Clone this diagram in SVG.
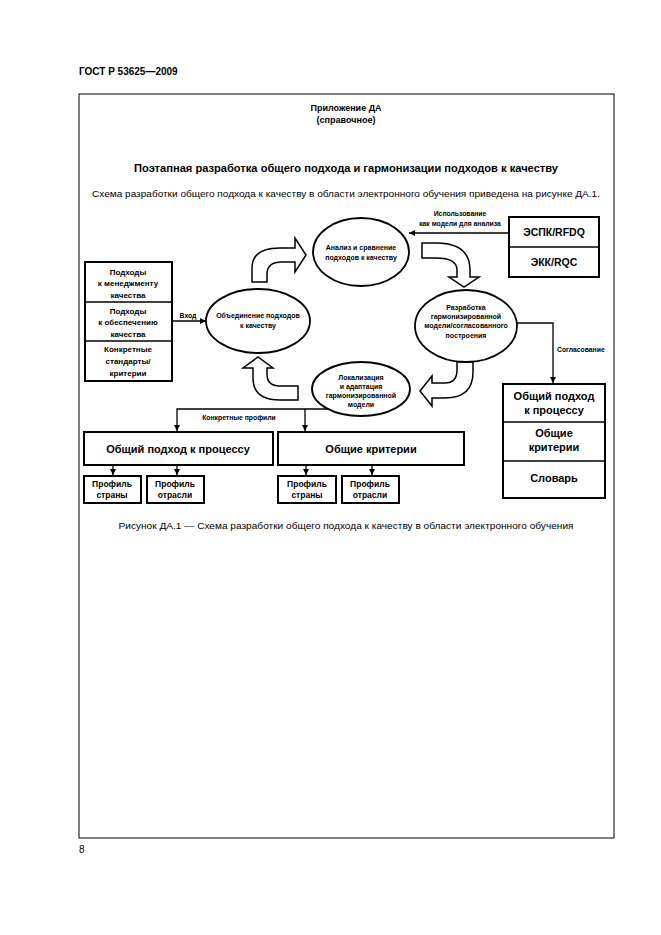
<svg xmlns="http://www.w3.org/2000/svg" width="661" height="935" viewBox="0 0 661 935">
<defs>
<style>
text{font-family:"Liberation Sans",Arial,sans-serif;fill:#000}
.b{font-weight:bold}
.c{text-anchor:middle}
.box{fill:#fff;stroke:#000;stroke-width:2}
.ell{fill:#fff;stroke:#000;stroke-width:1.8}
.blk{fill:#fff;stroke:#000;stroke-width:1.5;stroke-linejoin:miter}
.ln{fill:none;stroke:#000;stroke-width:1.3}
.et{font-size:7px;font-weight:bold}
.lt{font-size:8px;font-weight:bold}
.lab{font-size:6.8px;font-weight:bold}
.big{font-size:11px;font-weight:bold}
.pr{font-size:8.5px;font-weight:bold}
</style>
<marker id="ah" viewBox="0 0 10 10" refX="10" refY="5" markerWidth="6" markerHeight="6" markerUnits="userSpaceOnUse" orient="auto">
<path d="M0,0 L10,5 L0,10 Z" fill="#000"/>
</marker>
</defs>
<rect width="661" height="935" fill="#fff"/>
<text x="79" y="75" class="b" font-size="10">ГОСТ Р 53625—2009</text>
<rect x="79" y="94" width="535" height="744" fill="none" stroke="#000" stroke-width="1"/>
<text x="346" y="111" class="b c" font-size="9">Приложение ДА</text>
<text x="346" y="123" class="b c" font-size="9">(справочное)</text>
<text x="346" y="172" class="b c" font-size="10" textLength="424" lengthAdjust="spacingAndGlyphs">Поэтапная разработка общего подхода и гармонизации подходов к качеству</text>
<text x="346" y="197" class="c" font-size="9" textLength="508" lengthAdjust="spacingAndGlyphs">Схема разработки общего подхода к качеству в области электронного обучения приведена на рисунке ДА.1.</text>

<g id="connectors">
<line class="ln" x1="172" y1="321" x2="206" y2="321" marker-end="url(#ah)"/>
<line class="ln" x1="509" y1="233" x2="409" y2="233" marker-end="url(#ah)"/>
<polyline class="ln" points="517,323 553,323 553,383" marker-end="url(#ah)"/>
<polyline class="ln" points="328,409 177,409 177,431" marker-end="url(#ah)"/>
<line class="ln" x1="305" y1="409" x2="305" y2="431" marker-end="url(#ah)"/>
<line class="ln" x1="113" y1="465" x2="113" y2="475" marker-end="url(#ah)"/>
<line class="ln" x1="177" y1="465" x2="177" y2="475" marker-end="url(#ah)"/>
<line class="ln" x1="306" y1="465" x2="306" y2="475" marker-end="url(#ah)"/>
<line class="ln" x1="372" y1="465" x2="372" y2="475" marker-end="url(#ah)"/>
<path class="blk" d="M252 282 L252 268 Q252 248 280 248 L295 248 L295 238 L306 255 L295 272 L295 262 L282 262 Q267 262 267 274 L267 282 Z"/>
<path class="blk" d="M422 243 L436 243 Q470 243 470 270 L470 277 L479 277 L464 287 L449 277 L457 277 L457 270 Q457 258 436 258 L422 258 Z"/>
<path class="blk" d="M457 362 L473 362 L473 372 Q473 398 445 398 L432 398 L432 406 L420 391 L432 376 L432 383 L445 383 Q457 383 457 370 Z"/>
<path class="blk" d="M298 386 L280 386 Q267 386 267 374 L267 368 L273 368 L258 357 L243 368 L253 368 L253 378 Q253 400 280 400 L298 400 Z"/>
<text x="460" y="216" class="lab c">Использование</text>
<text x="460" y="226" class="lab c">как модели для анализа</text>
<text x="188" y="318" class="lab c">Вход</text>
<text x="557" y="352" class="lab">Согласование</text>
<text x="239" y="420" class="lab c">Конкретные профили</text>
</g>

<g id="n-analysis">
<ellipse class="ell" cx="361" cy="252" rx="48" ry="34"/>
<text x="361" y="250" class="et c">Анализ и сравнение</text>
<text x="361" y="260" class="et c">подходов к качеству</text>
</g>
<g id="n-development">
<ellipse class="ell" cx="466" cy="326" rx="51" ry="36"/>
<text x="466" y="310" class="et c">Разработка</text>
<text x="466" y="319" class="et c">гармонизированной</text>
<text x="466" y="328" class="et c">модели/согласованного</text>
<text x="466" y="338" class="et c">построения</text>
</g>
<g id="n-union">
<ellipse class="ell" cx="258" cy="321" rx="52" ry="32"/>
<text x="258" y="318" class="et c">Объединение подходов</text>
<text x="258" y="328" class="et c">к качеству</text>
</g>
<g id="n-localization">
<ellipse class="ell" cx="361" cy="389" rx="49" ry="27"/>
<text x="361" y="380" class="et c">Локализация</text>
<text x="361" y="389" class="et c">и адаптация</text>
<text x="361" y="398" class="et c">гармонизированной</text>
<text x="361" y="407" class="et c">модели</text>
</g>

<g id="n-inputs">
<rect class="box" x="85" y="262" width="87" height="119"/>
<line x1="85" y1="302" x2="172" y2="302" stroke="#000" stroke-width="1.5"/>
<line x1="85" y1="341" x2="172" y2="341" stroke="#000" stroke-width="1.5"/>
<text x="128" y="275" class="lt c">Подходы</text>
<text x="128" y="286" class="lt c">к менеджменту</text>
<text x="128" y="298" class="lt c">качества</text>
<text x="128" y="314" class="lt c">Подходы</text>
<text x="128" y="325" class="lt c">к обеспечению</text>
<text x="128" y="337" class="lt c">качества</text>
<text x="128" y="352" class="lt c">Конкретные</text>
<text x="128" y="364" class="lt c">стандарты/</text>
<text x="128" y="376" class="lt c">критерии</text>
</g>

<g id="n-models">
<rect class="box" x="509" y="217" width="90" height="60"/>
<line x1="509" y1="247" x2="599" y2="247" stroke="#000" stroke-width="1.5"/>
<text x="554" y="236" class="c b" font-size="10.5">ЭСПК/RFDQ</text>
<text x="554" y="266" class="c b" font-size="10.5">ЭКК/RQC</text>
</g>

<g id="n-result">
<rect class="box" x="503" y="384" width="102" height="114"/>
<line x1="503" y1="422" x2="605" y2="422" stroke="#000" stroke-width="1.5"/>
<line x1="503" y1="461" x2="605" y2="461" stroke="#000" stroke-width="1.5"/>
<text x="554" y="400" class="big c">Общий подход</text>
<text x="554" y="414" class="big c">к процессу</text>
<text x="554" y="437" class="big c">Общие</text>
<text x="554" y="451" class="big c">критерии</text>
<text x="554" y="482" class="big c">Словарь</text>
</g>

<g id="n-process">
<rect class="box" x="84" y="432" width="189" height="33"/>
<text x="178" y="453" class="big c">Общий подход к процессу</text>
</g>
<g id="n-criteria">
<rect class="box" x="278" y="432" width="186" height="33"/>
<text x="371" y="453" class="big c">Общие критерии</text>
</g>
<g id="n-p1">
<rect class="box" x="84" y="476" width="57" height="27" stroke-width="2.5"/>
<text x="112" y="487" class="pr c">Профиль</text>
<text x="112" y="498" class="pr c">страны</text>
</g>
<g id="n-p2">
<rect class="box" x="147" y="476" width="57" height="27" stroke-width="2.5"/>
<text x="175" y="487" class="pr c">Профиль</text>
<text x="175" y="498" class="pr c">отрасли</text>
</g>
<g id="n-p3">
<rect class="box" x="278" y="476" width="58" height="27" stroke-width="2.5"/>
<text x="307" y="487" class="pr c">Профиль</text>
<text x="307" y="498" class="pr c">страны</text>
</g>
<g id="n-p4">
<rect class="box" x="342" y="476" width="57" height="27" stroke-width="2.5"/>
<text x="370" y="487" class="pr c">Профиль</text>
<text x="370" y="498" class="pr c">отрасли</text>
</g>

<text x="346" y="529" class="c" font-size="9" textLength="455" lengthAdjust="spacingAndGlyphs">Рисунок ДА.1 — Схема разработки общего подхода к качеству в области электронного обучения</text>
<text x="79" y="853" font-size="10">8</text>
</svg>
